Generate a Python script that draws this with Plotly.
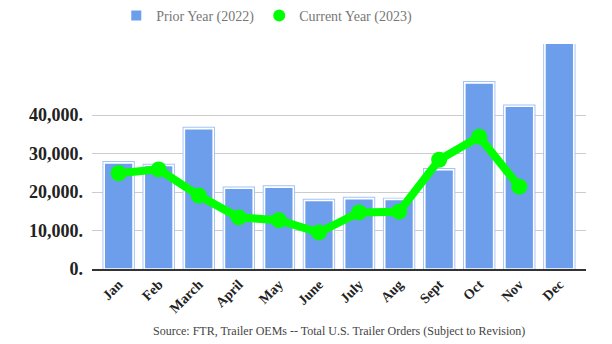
import plotly.graph_objects as go

months = ["Jan", "Feb", "March", "April", "May", "June", "July", "Aug",
          "Sept", "Oct", "Nov", "Dec"]
prior_year = [27600, 26900, 36500, 21000, 21300, 17800, 18300, 18100,
              25800, 48400, 42300, 60500]
current_year = [24900, 25900, 19100, 13400, 12700, 9500, 14700, 14900,
                28400, 34400, 21400]

y_ticks = [0, 10000, 20000, 30000, 40000]
y_tick_text = ["0.", "10,000.", "20,000.", "30,000.", "40,000."]

serif = "Liberation Serif, Times New Roman, serif"
bar_fill = "#6d9eeb"
bar_halo = "#a4c2f4"
line_green = "#00ff00"
bar_width = 0.72

fig = go.Figure()

# light outer halo behind each bar
fig.add_trace(go.Bar(
    x=months, y=prior_year, width=bar_width,
    marker=dict(color=bar_halo, line=dict(color=bar_halo, width=3.5)),
    showlegend=False, hoverinfo="skip",
))
# main bars with a thin white inner rim
fig.add_trace(go.Bar(
    x=months, y=prior_year, width=bar_width, name="Prior Year (2022)",
    marker=dict(color=bar_fill, line=dict(color="white", width=1.6)),
))
fig.add_trace(go.Scatter(
    x=months[:len(current_year)], y=current_year, name="Current Year (2023)",
    mode="lines+markers", showlegend=False,
    line=dict(color=line_green, width=8),
    marker=dict(color=line_green, size=16),
))
# legend entry for the line series: a plain dot
fig.add_trace(go.Scatter(
    x=[None], y=[None], name="Current Year (2023)", mode="markers",
    marker=dict(color=line_green, size=11),
))

fig.update_layout(
    width=612, height=344,
    margin=dict(l=92, r=26, t=44, b=75),
    paper_bgcolor="white", plot_bgcolor="white",
    barmode="overlay",
    font=dict(family=serif, color="#222222"),
    legend=dict(
        orientation="h", xref="container", yref="container",
        x=0.19, xanchor="left", y=1.0, yanchor="top",
        font=dict(family=serif, size=14, color="#777777"),
        itemsizing="constant", tracegroupgap=0,
    ),
    xaxis=dict(
        range=[-0.665, 11.665], showgrid=False, zeroline=False,
        showline=True, linecolor="#333333", linewidth=1.5,
        tickangle=-45, ticks="",
        tickfont=dict(family=serif, size=14, color="#222222", weight="bold"),
    ),
    yaxis=dict(
        range=[0, 58500], tickvals=y_ticks, ticktext=y_tick_text,
        showgrid=True, gridcolor="#cccccc", gridwidth=1, zeroline=False,
        ticks="", ticklabelstandoff=8,
        tickfont=dict(family=serif, size=18, color="#222222", weight="bold"),
    ),
    annotations=[dict(
        text="Source: FTR, Trailer OEMs -- Total U.S. Trailer Orders (Subject to Revision)",
        xref="paper", yref="paper", x=0.5, y=0, yshift=-62,
        xanchor="center", yanchor="middle", showarrow=False,
        font=dict(family=serif, size=12, color="#444444"),
    )],
)

fig.write_html("out.html")
